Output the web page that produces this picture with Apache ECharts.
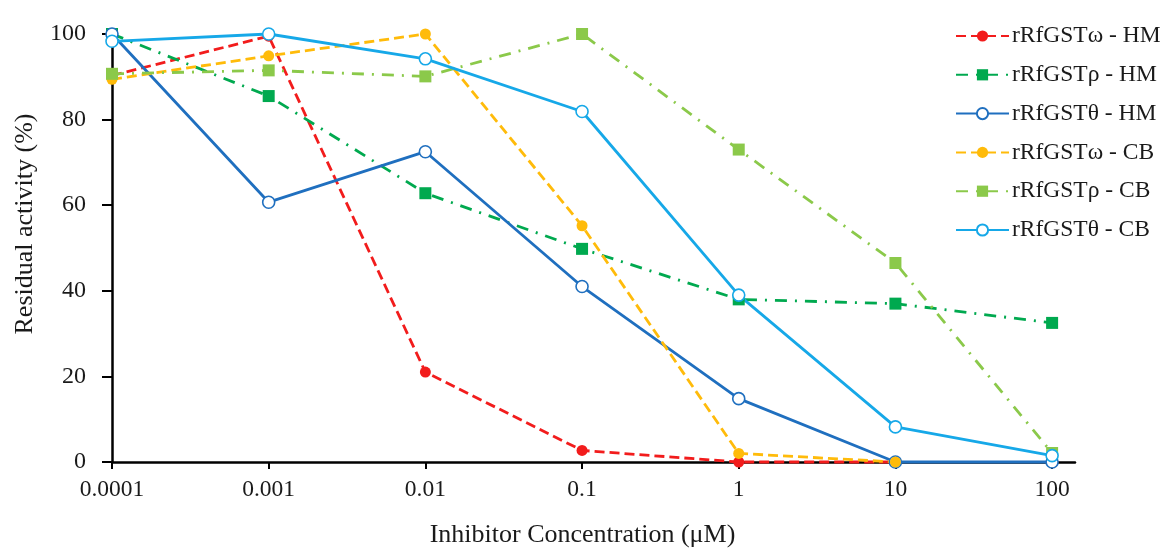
<!DOCTYPE html>
<html><head><meta charset="utf-8">
<script src="https://cdn.jsdelivr.net/npm/echarts@6/dist/echarts.min.js"></script>
<style>html,body{margin:0;padding:0;background:#fff}#c{width:1168px;height:549px}</style>
</head><body><div id="c"></div>
<script>
const concentrations = [0.0001, 0.001, 0.01, 0.1, 1, 10, 100];
const tickLabels = ['0.0001', '0.001', '0.01', '0.1', '1', '10', '100'];
const seriesNames = ['rRfGSTω - HM', 'rRfGSTρ - HM', 'rRfGSTθ - HM', 'rRfGSTω - CB', 'rRfGSTρ - CB', 'rRfGSTθ - CB'];
const omegaHM = [90.3, 99.5, 21, 2.7, 0, 0, null];
const rhoHM = [100, 85.5, 62.8, 49.8, 38, 37, 32.5];
const thetaHM = [100, 60.7, 72.5, 41, 14.8, 0, 0];
const omegaCB = [89.4, 94.9, 100, 55.2, 2, 0, null];
const rhoCB = [90.7, 91.5, 90.1, 100, 73, 46.5, 2.1];
const thetaCB = [98.3, 100, 94.2, 81.9, 39, 8.2, 1.5];

const FONT = 'Liberation Serif';
function pts(vals) { return vals.map((v, i) => [concentrations[i], v]); }

function mk(name, vals, color, lineType, symbol, size, open) {
  return {
    name, type: 'line', data: pts(vals), clip: false, connectNulls: false,
    symbol, symbolSize: size, showSymbol: true,
    lineStyle: { color, width: 2.8, type: lineType },
    itemStyle: open ? { color: '#fff', borderColor: color, borderWidth: 1.6 } : { color, borderWidth: 0 },
    emphasis: { disabled: true }
  };
}

const chart = echarts.init(document.getElementById('c'), null, { renderer: 'canvas' });
chart.setOption({
  animation: false,
  backgroundColor: '#fff',
  grid: { left: 112, right: 93, top: 34, bottom: 87, containLabel: false, outerBoundsMode: 'none' },
  legend: {
    orient: 'vertical', left: 950, top: 19,
    itemWidth: 53, itemHeight: 14, itemGap: 14.8,
    textStyle: { fontFamily: FONT, fontSize: 23.5, color: '#1a1a1a', padding: [0, 0, 0, -2] },
    data: seriesNames
  },
  xAxis: {
    type: 'log', logBase: 10, min: 0.0001, max: 140,
    name: 'Inhibitor Concentration (μM)', nameLocation: 'middle', nameGap: 60,
    nameTextStyle: { fontFamily: FONT, fontSize: 26, color: '#1a1a1a', padding: [0, 22, 0, 0] },
    axisLine: { show: true, lineStyle: { color: '#000', width: 2.5 } },
    axisTick: { show: true, length: 7, lineStyle: { color: '#000', width: 2 }, customValues: concentrations },
    axisLabel: {
      fontFamily: FONT, fontSize: 23.5, color: '#1a1a1a', margin: 16,
      customValues: concentrations,
      formatter: v => { const i = concentrations.findIndex(c => Math.abs(Math.log10(c) - Math.log10(v)) < 1e-6); return i >= 0 ? tickLabels[i] : ''; }
    },
    splitLine: { show: false }, minorTick: { show: false }
  },
  yAxis: {
    type: 'value', min: 0, max: 100, interval: 20,
    name: 'Residual activity (%)', nameLocation: 'middle', nameGap: 74, nameRotate: 90,
    nameTextStyle: { fontFamily: FONT, fontSize: 26, color: '#1a1a1a', padding: [0, 0, 0, 48] },
    axisLine: { show: true, lineStyle: { color: '#000', width: 2.5 } },
    axisTick: { show: true, length: 10, lineStyle: { color: '#000', width: 2 } },
    axisLabel: { fontFamily: FONT, fontSize: 24, color: '#1a1a1a', margin: 26 },
    splitLine: { show: false }
  },
  series: [
    mk(seriesNames[0], omegaHM, '#f21c1c', [10, 5], 'circle', 11, false),
    mk(seriesNames[1], rhoHM, '#00a94f', [12, 8, 2, 8], 'rect', 12, false),
    mk(seriesNames[2], thetaHM, '#1f6fbf', 'solid', 'circle', 12, true),
    mk(seriesNames[3], omegaCB, '#ffbb0a', [10, 5], 'circle', 11, false),
    mk(seriesNames[4], rhoCB, '#8bc94a', [12, 8, 2, 8], 'rect', 12, false),
    mk(seriesNames[5], thetaCB, '#16a8e8', 'solid', 'circle', 12, true)
  ]
});
</script></body></html>
